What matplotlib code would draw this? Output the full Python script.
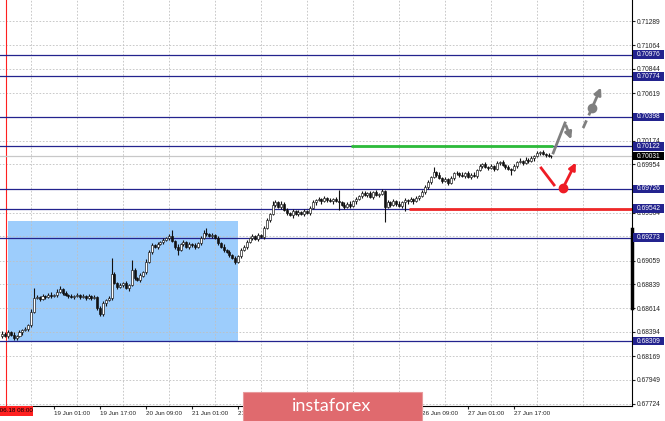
import numpy as np
import matplotlib
matplotlib.use("Agg")
import matplotlib.pyplot as plt
from matplotlib.patches import Rectangle
from matplotlib.transforms import blended_transform_factory

plt.rcParams["font.family"] = ["Liberation Sans", "DejaVu Sans"]

# H1 closes, bar -2 (18 Jun 07:00) .. bar 189 (27 Jun 20:00)
closes = [
    0.6838, 0.6836, 0.6839, 0.6837, 0.6834, 0.6836, 0.6839, 0.6841, 0.6842, 0.6846, 0.6858, 0.6871,
    0.6872, 0.6870, 0.6873, 0.6872, 0.6874, 0.6873, 0.6874, 0.6877, 0.6879, 0.6876, 0.6874, 0.6873,
    0.6872, 0.6873, 0.6874, 0.6872, 0.6873, 0.6871, 0.6873, 0.6871, 0.6872, 0.6862, 0.6856, 0.6866,
    0.6869, 0.6871, 0.6893, 0.6885, 0.6881, 0.6883, 0.6885, 0.6880, 0.6883, 0.6897, 0.6890, 0.6888,
    0.6892, 0.6895, 0.6905, 0.6914, 0.6920, 0.6919, 0.6921, 0.6923, 0.6925, 0.6927, 0.6929, 0.6924,
    0.6919, 0.6916, 0.6921, 0.6923, 0.6919, 0.6921, 0.6920, 0.6919, 0.6922, 0.6927, 0.6932, 0.6931,
    0.6929, 0.6930, 0.6927, 0.6922, 0.6919, 0.6916, 0.6914, 0.6911, 0.6908, 0.6905, 0.6910, 0.6916,
    0.6919, 0.6923, 0.6927, 0.6929, 0.6926, 0.6930, 0.6928, 0.6936, 0.6944, 0.6949, 0.6958, 0.6960,
    0.6956, 0.6959, 0.6953, 0.6950, 0.6948, 0.6952, 0.6949, 0.6951, 0.6949, 0.6952, 0.6950, 0.6955,
    0.6960, 0.6962, 0.6963, 0.6961, 0.6964, 0.6962, 0.6961, 0.6963, 0.6961, 0.6960, 0.6958, 0.6956,
    0.6959, 0.6957, 0.6961, 0.6963, 0.6966, 0.6969, 0.6967, 0.6969, 0.6965, 0.6970, 0.6967, 0.6968,
    0.6971, 0.6956, 0.6960, 0.6958, 0.6961, 0.6959, 0.6957, 0.6960, 0.6962, 0.6961, 0.6963, 0.6961,
    0.6964, 0.6966, 0.6970, 0.6974, 0.6979, 0.6984, 0.6988, 0.6986, 0.6983, 0.6980, 0.6982, 0.6978,
    0.6983, 0.6987, 0.6987, 0.6986, 0.6985, 0.6987, 0.6984, 0.6986, 0.6985, 0.6990, 0.6994, 0.6996,
    0.6993, 0.6992, 0.6994, 0.6991, 0.6997, 0.6998, 0.6995, 0.6993, 0.6991, 0.6990, 0.6994, 0.6998,
    0.6999, 0.6997, 0.7000, 0.6999, 0.7001, 0.7003, 0.7006, 0.7007, 0.7005, 0.7004, 0.7003, 0.7003,
]
first_open = 0.6836
# wick lengths in pips above / below the body
wick_up = [
    2, 1, 2, 1, 2, 1, 2, 1, 2, 1, 3, 9,
    2, 1, 2, 1, 2, 3, 1, 2, 3, 1, 2, 1,
    2, 1, 2, 1, 2, 1, 2, 1, 2, 1, 2, 2,
    1, 2, 15, 2, 1, 2, 1, 2, 1, 9, 2, 1,
    2, 1, 2, 2, 2, 1, 2, 1, 2, 1, 2, 5,
    1, 2, 1, 2, 1, 2, 1, 2, 1, 2, 2, 4,
    1, 2, 1, 2, 1, 2, 1, 2, 1, 2, 1, 2,
    1, 2, 1, 2, 1, 2, 1, 2, 2, 1, 3, 2,
    1, 2, 1, 2, 1, 2, 1, 2, 1, 2, 1, 2,
    2, 1, 2, 1, 2, 1, 2, 1, 2, 11, 1, 2,
    1, 2, 1, 2, 1, 2, 2, 1, 2, 1, 2, 1,
    2, 1, 2, 1, 2, 1, 2, 1, 2, 1, 2, 1,
    2, 1, 2, 2, 2, 1, 5, 1, 2, 1, 2, 1,
    2, 1, 2, 1, 2, 1, 2, 1, 2, 1, 2, 1,
    2, 1, 2, 1, 2, 1, 2, 1, 2, 1, 2, 1,
    2, 1, 2, 1, 2, 1, 2, 1, 2, 1, 2, 1,
]
wick_dn = [
    2, 1, 2, 1, 2, 2, 1, 2, 1, 2, 2, 1,
    1, 2, 1, 2, 1, 2, 1, 2, 1, 2, 1, 2,
    1, 2, 1, 2, 1, 2, 1, 2, 1, 2, 2, 2,
    2, 1, 2, 1, 2, 1, 2, 1, 2, 1, 2, 1,
    2, 1, 2, 1, 2, 1, 2, 1, 2, 1, 2, 1,
    2, 5, 1, 2, 1, 2, 1, 2, 1, 2, 1, 2,
    1, 2, 1, 2, 1, 2, 1, 2, 1, 2, 1, 2,
    1, 2, 1, 2, 1, 2, 1, 2, 1, 2, 1, 2,
    1, 2, 1, 2, 1, 2, 1, 2, 1, 2, 1, 2,
    1, 2, 1, 2, 1, 2, 1, 2, 1, 7, 1, 2,
    1, 2, 1, 2, 1, 2, 1, 2, 1, 2, 1, 2,
    1, 14, 1, 2, 1, 2, 1, 2, 8, 2, 1, 2,
    1, 2, 1, 2, 1, 2, 1, 2, 1, 2, 1, 2,
    1, 2, 1, 2, 1, 2, 1, 2, 1, 2, 1, 2,
    1, 2, 1, 2, 1, 2, 1, 2, 1, 4, 1, 2,
    1, 2, 1, 2, 1, 2, 1, 2, 1, 2, 1, 2,
]

levels = [0.70976, 0.70774, 0.70398, 0.70122, 0.69726, 0.69542, 0.69273, 0.68309]
last_price = 0.70031
price_ticks = [0.71289, 0.71064, 0.70844, 0.70619, 0.70399, 0.70174, 0.69954, 0.69729,
               0.69504, 0.69284, 0.69059, 0.68839, 0.68614, 0.68394, 0.68169, 0.67949, 0.67724]
hidden_ticks = [0.70399, 0.69729, 0.69284]
time_bars = [16, 32, 48, 64, 80, 96, 112, 128, 144, 160, 176]
# labels at bars 96..128 sit under the watermark banner
time_labels = ["19 Jun 01:00", "19 Jun 17:00", "20 Jun 09:00", "21 Jun 01:00", "21 Jun 17:00",
               "", "", "", "26 Jun 09:00", "27 Jun 01:00", "27 Jun 17:00"]
grid_bars = [8, 24, 40, 56, 72, 88, 104, 120, 136, 152, 168, 184, 200]
marker_bar = -0.8
marker_label = "2019.06.18 08:00"

# range box and forecast drawings (bar index, price)
box_bars = [0, 80]
box_prices = [0.68309, 0.69428]
green_bars = [119.3, 189.6]
green_price = 0.70122
red_bars = [139.5, 217.0]
red_price = 0.69542
up_path_bars = [189.6, 193.7, 196.2]
up_path_prices = [0.70061, 0.70340, 0.70163]
up_dash_bars = [200.0, 203.1, 206.6]
up_dash_prices = [0.70293, 0.70480, 0.70694]
dn_path_bars = [185.4, 189.9, 193.0, 197.9]
dn_path_prices = [0.69921, 0.69763, 0.69735, 0.69995]

PIP = 0.0001
NAVY = "#23238e"
W, H = 665, 421

fig = plt.figure(figsize=(W / 100, H / 100), dpi=100)
ax = fig.add_axes([0, 15 / H, 632 / W, 406 / H])
ax.set_xlim(-2.78, 217.0)
ax.set_ylim(0.67705, 0.71485)
for s in ["top", "left"]:
    ax.spines[s].set_visible(False)
for s in ["right", "bottom"]:
    ax.spines[s].set_linewidth(0.8)

# grid
ax.hlines(price_ticks, -3, 218, colors="#c0c0c0", lw=0.6, linestyles=(0, (2, 2)), zorder=1.5)
ax.vlines(grid_bars, 0.67, 0.72, colors="#c0c0c0", lw=0.6, linestyles=(0, (2, 2)), zorder=1.5)

ax.add_patch(Rectangle((box_bars[0], box_prices[0]), box_bars[1] - box_bars[0],
                       box_prices[1] - box_prices[0], fc="#9dcdfc", ec="none", zorder=1))

ax.axvline(marker_bar, color="#ff2020", lw=0.8, zorder=2)
ax.axhline(last_price, color="#c8c8c8", lw=0.9, zorder=2)
ax.hlines(levels, -3, 218, colors=NAVY, lw=0.9, zorder=3)

# candles
bars = np.arange(len(closes)) - 2
c = np.array(closes)
o = np.array([first_open] + closes[:-1])
top = np.maximum(o, c)
bot = np.minimum(o, c)
ax.vlines(bars, bot - np.array(wick_dn) * PIP, top + np.array(wick_up) * PIP,
          colors="#111111", lw=0.8, zorder=4)
ax.bar(bars, np.maximum(top - bot, 0.00004), bottom=bot, width=0.7,
       color=np.where(c >= o, "white", "#111111"), edgecolor="#111111", lw=0.45, zorder=5)

# drawings
ax.plot(green_bars, [green_price] * 2, color="#2dbb3a", lw=2, zorder=6, solid_capstyle="butt")
ax.plot(red_bars, [red_price] * 2, color="#f02828", lw=2, zorder=6, solid_capstyle="butt")

gray = "#7f7f7f"
ax.plot(up_path_bars[:2], up_path_prices[:2], color=gray, lw=2, zorder=6)
ax.annotate("", xy=(up_path_bars[2], up_path_prices[2]), xytext=(up_path_bars[1], up_path_prices[1]),
            arrowprops=dict(arrowstyle="-|>", color=gray, lw=2, mutation_scale=10), zorder=6)
ax.plot(up_dash_bars[:2], up_dash_prices[:2], color=gray, lw=2, ls=(0, (3, 2)), zorder=6)
ax.plot(up_dash_bars[1], up_dash_prices[1], "o", color=gray, ms=6, zorder=7)
ax.annotate("", xy=(up_dash_bars[2], up_dash_prices[2]), xytext=(up_dash_bars[1], up_dash_prices[1]),
            arrowprops=dict(arrowstyle="-|>", color=gray, lw=2, mutation_scale=10), zorder=6)

red = "#ee1c25"
ax.plot(dn_path_bars[:2], dn_path_prices[:2], color=red, lw=2, zorder=6)
ax.plot(dn_path_bars[2], dn_path_prices[2], "o", color=red, ms=6, zorder=7)
ax.annotate("", xy=(dn_path_bars[3], dn_path_prices[3]), xytext=(dn_path_bars[2], dn_path_prices[2]),
            arrowprops=dict(arrowstyle="-|>", color=red, lw=2, mutation_scale=10), zorder=6)

# axes ticks
ax.yaxis.tick_right()
ax.set_yticks(price_ticks)
ax.set_yticklabels(["" if p in hidden_ticks else f"{p:.5f}" for p in price_ticks])
ax.tick_params(axis="y", labelsize=4.8, length=2, pad=1.5, colors="#222222")
ax.set_xticks(time_bars)
ax.set_xticklabels(time_labels)
ax.tick_params(axis="x", labelsize=4.5, length=2, pad=1.5, colors="#222222")
for lbl in ax.get_xticklabels():
    lbl.set_horizontalalignment("left")

# thick mark on price scale
btr = blended_transform_factory(ax.transAxes, ax.transData)
ax.plot([1, 1], [0.68617, 0.69353], color="black", lw=2.5, transform=btr, clip_on=False, zorder=8)

# price labels of the levels
ftr = blended_transform_factory(fig.transFigure, ax.transData)
bh = 8.5 * (0.71485 - 0.67705) / 406
for lv, fc in [(v, NAVY) for v in levels] + [(last_price, "black")]:
    fig.patches.append(Rectangle((633 / W, lv - bh / 2), 31 / W, bh, fc=fc, ec="none",
                                 transform=ftr, zorder=10))
    fig.text(648.5 / W, lv, f"{lv:.5f}", transform=ftr, color="white", fontsize=4.8,
             ha="center", va="center", zorder=11)

# red time marker label
fig.patches.append(Rectangle((0, (H - 416) / H), 33 / W, 10 / H, fc="#ff2020", ec="none",
                             transform=fig.transFigure, zorder=10))
fig.text(33 / W, (H - 411) / H, marker_label, color="black", fontsize=4.5,
         ha="right", va="center", zorder=11)

# watermark banner
fig.patches.append(Rectangle((243 / W, 0), 179 / W, 29 / H, fc="#e06a6e", ec="#e89a9c", lw=0.8,
                             transform=fig.transFigure, zorder=12))
fig.text(332 / W, 15 / H, "instaforex", color="white", fontsize=13, family="Lato",
         ha="center", va="center", zorder=13)

fig.savefig("out.png", dpi=100)
